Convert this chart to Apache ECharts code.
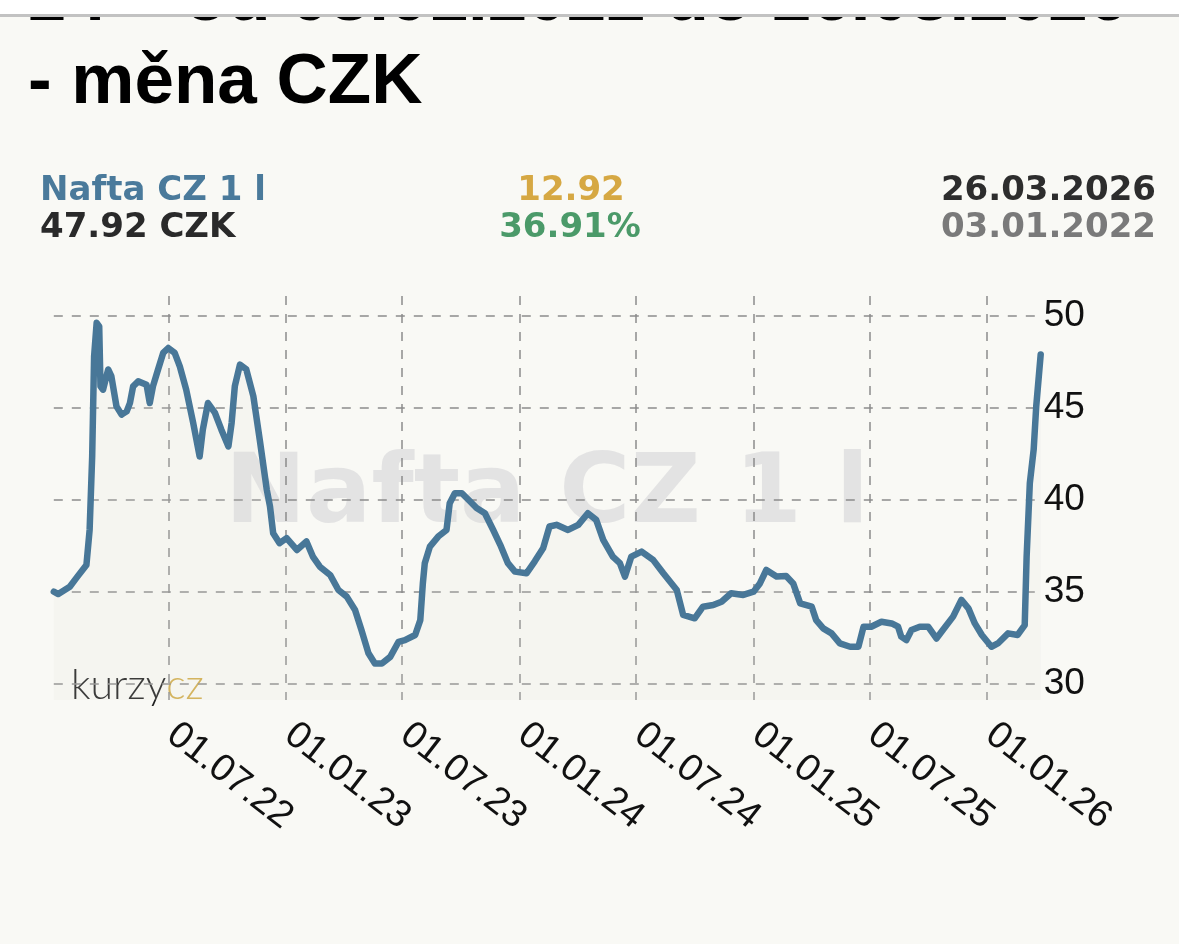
<!DOCTYPE html>
<html><head><meta charset="utf-8">
<script src="https://cdn.jsdelivr.net/npm/echarts@6/dist/echarts.min.js"></script>
<style>html,body{margin:0;padding:0;background:#f9f9f5;} #c{width:1179px;height:944px;}</style>
</head><body><div id="c"></div>
<script>
const dates = ['2022-01-03','2022-01-10','2022-01-28','2022-02-08','2022-02-23','2022-02-28','2022-03-04','2022-03-07','2022-03-11','2022-03-15','2022-03-17','2022-03-21','2022-03-29','2022-04-03','2022-04-11','2022-04-19','2022-04-27','2022-05-02','2022-05-07','2022-05-15','2022-05-28','2022-06-02','2022-06-07','2022-06-15','2022-06-23','2022-07-01','2022-07-11','2022-07-19','2022-07-29','2022-08-09','2022-08-19','2022-08-24','2022-09-01','2022-09-12','2022-09-22','2022-10-03','2022-10-08','2022-10-13','2022-10-21','2022-10-31','2022-11-11','2022-11-21','2022-12-02','2022-12-07','2022-12-12','2022-12-22','2023-01-02','2023-01-18','2023-02-02','2023-02-12','2023-02-23','2023-03-11','2023-03-24','2023-04-06','2023-04-19','2023-04-29','2023-05-10','2023-05-20','2023-05-31','2023-06-13','2023-06-26','2023-07-06','2023-07-22','2023-07-30','2023-08-03','2023-08-06','2023-08-14','2023-08-27','2023-09-09','2023-09-14','2023-09-22','2023-10-03','2023-10-16','2023-10-26','2023-11-08','2023-11-21','2023-12-02','2023-12-14','2023-12-25','2024-01-12','2024-01-25','2024-02-07','2024-02-17','2024-02-28','2024-03-17','2024-04-02','2024-04-17','2024-04-30','2024-05-11','2024-05-26','2024-06-06','2024-06-14','2024-06-24','2024-07-10','2024-07-28','2024-08-13','2024-09-03','2024-09-13','2024-10-01','2024-10-14','2024-10-30','2024-11-12','2024-11-27','2024-12-16','2025-01-01','2025-01-11','2025-01-21','2025-02-06','2025-02-21','2025-03-04','2025-03-15','2025-04-02','2025-04-09','2025-04-20','2025-05-03','2025-05-16','2025-06-01','2025-06-14','2025-06-22','2025-07-04','2025-07-20','2025-08-05','2025-08-15','2025-08-20','2025-08-28','2025-09-05','2025-09-18','2025-10-01','2025-10-14','2025-10-24','2025-11-09','2025-11-22','2025-12-03','2025-12-13','2025-12-24','2026-01-08','2026-01-18','2026-02-03','2026-02-18','2026-03-01','2026-03-04','2026-03-09','2026-03-15','2026-03-19','2026-03-26'];
const values = [35.00,34.87,35.27,35.78,36.45,38.36,42.36,47.80,49.64,49.45,46.18,46.00,47.10,46.73,45.09,44.64,44.82,45.27,46.18,46.45,46.27,45.27,46.18,47.10,48.00,48.27,48.00,47.27,46.00,44.18,42.36,43.82,45.27,44.73,43.82,42.91,44.18,46.18,47.36,47.10,45.64,43.27,40.55,39.64,38.18,37.64,37.91,37.27,37.73,36.91,36.36,35.91,35.09,34.73,34.00,32.91,31.64,31.09,31.09,31.45,32.27,32.36,32.64,33.45,35.45,36.55,37.45,38.00,38.36,39.82,40.36,40.36,39.91,39.55,39.27,38.36,37.55,36.55,36.09,36.00,36.65,37.36,38.55,38.64,38.36,38.64,39.27,38.91,37.82,36.91,36.55,35.82,36.91,37.18,36.73,36.00,35.09,33.73,33.55,34.18,34.27,34.45,34.91,34.82,35.00,35.45,36.18,35.82,35.85,35.45,34.36,34.18,33.45,33.00,32.73,32.18,32.00,32.00,33.09,33.09,33.36,33.27,33.09,32.55,32.36,32.91,33.09,33.09,32.45,32.91,33.64,34.55,34.09,33.27,32.64,32.00,32.18,32.73,32.64,33.18,36.91,40.91,42.73,45.09,47.92];
const xTickDates = ['2022-07-01','2023-01-01','2023-07-01','2024-01-01','2024-07-01','2025-01-01','2025-07-01','2026-01-01'];
const yTicks = [30,35,40,45,50];
const seriesName = 'Nafta CZ 1 l';
const lastValue = '47.92 CZK';
const changeAbs = '12.92';
const changePct = '36.91%';
const dateEnd = '26.03.2026';
const dateStart = '03.01.2022';
const titleLine1 = '1 l – od 03.01.2022 do 26.03.2026';
const titleLine2 = '- měna CZK';

function ts(s){const p=s.split('-').map(Number);return new Date(p[0],p[1]-1,p[2]).getTime();}
function pad(n){return (n<10?'0':'')+n;}
const data = dates.map((d,i)=>[ts(d), values[i]]);
const xTicks = xTickDates.map(ts);

const chart = echarts.init(document.getElementById('c'), null, {renderer:'canvas'});
const hdr = 'bold 34px "DejaVu Sans"';
const ttl = 'bold 71px "Liberation Sans"';
chart.setOption({
  backgroundColor:'#f9f9f5',
  animation:false,
  grid:{left:53.8,right:138.3,top:296,bottom:244,containLabel:false,outerBoundsMode:'none'},
  xAxis:{
    type:'value', min:ts(dates[0]), max:ts(dates[dates.length-1]),
    axisLine:{show:false}, axisTick:{show:false, customValues:xTicks},
    splitLine:{show:true,lineStyle:{color:'#8c8c8c',width:1.5,type:[9,9]}},
    axisLabel:{customValues:xTicks, rotate:-38, margin:28, padding:[0,0,0,4], fontSize:38, fontFamily:'Liberation Sans', color:'#111',
      formatter:function(v){const d=new Date(v);return pad(d.getDate())+'.'+pad(d.getMonth()+1)+'.'+String(d.getFullYear()).slice(2);}}
  },
  yAxis:{
    type:'value', position:'right', min:29.1, max:51.1,
    axisLine:{show:false}, axisTick:{show:false, customValues:yTicks},
    splitLine:{show:true,lineStyle:{color:'#8c8c8c',width:1.5,type:[9,9]}},
    axisLabel:{customValues:yTicks, margin:3, fontSize:37, fontFamily:'Liberation Sans', color:'#111'}
  },
  graphic:[
    {type:'text', z:-10, x:547, y:497, style:{text:seriesName, font:'bold 97px "DejaVu Sans"', fill:'#e3e3e3', align:'center', verticalAlign:'middle'}},
    {type:'text', x:26, y:0, style:{text:titleLine1, font:ttl, fill:'#000', align:'left', verticalAlign:'middle'}},
    {type:'rect', shape:{x:0,y:0,width:1179,height:15}, style:{fill:'#ffffff'}},
    {type:'rect', shape:{x:0,y:14,width:1179,height:3}, style:{fill:'#c2c2c2'}},
    {type:'text', x:28, y:83, style:{text:titleLine2, font:ttl, fill:'#000', align:'left', verticalAlign:'middle'}},
    {type:'text', x:40, y:191, style:{text:seriesName, font:hdr, fill:'#4a7a9b', align:'left', verticalAlign:'middle'}},
    {type:'text', x:40, y:228, style:{text:lastValue, font:hdr, fill:'#2a2a2a', align:'left', verticalAlign:'middle'}},
    {type:'text', x:571, y:191, style:{text:changeAbs, font:hdr, fill:'#d6a843', align:'center', verticalAlign:'middle'}},
    {type:'text', x:570, y:228, style:{text:changePct, font:hdr, fill:'#4b9a69', align:'center', verticalAlign:'middle'}},
    {type:'text', x:1156, y:191, style:{text:dateEnd, font:hdr, fill:'#2d2d2d', align:'right', verticalAlign:'middle'}},
    {type:'text', x:1156, y:228, style:{text:dateStart, font:hdr, fill:'#7a7a7a', align:'right', verticalAlign:'middle'}},
    {type:'text', x:71, y:686, style:{rich:{a:{fill:'#1e1e1e',color:'#1e1e1e',font:'300 41px Lato'},b:{fill:'#d2ad4a',color:'#d2ad4a',font:'300 41px Lato'}}, text:'{a|kurzy}{b|cz}', align:'left', verticalAlign:'middle'}}
  ],
  series:[{
    type:'line', data:data, showSymbol:false, smooth:false, z:5,
    lineStyle:{color:'#487798', width:6.5, cap:'round', join:'round'},
    areaStyle:{color:'rgba(225,225,218,0.22)', origin:'start'}
  }]
});
</script></body></html>
